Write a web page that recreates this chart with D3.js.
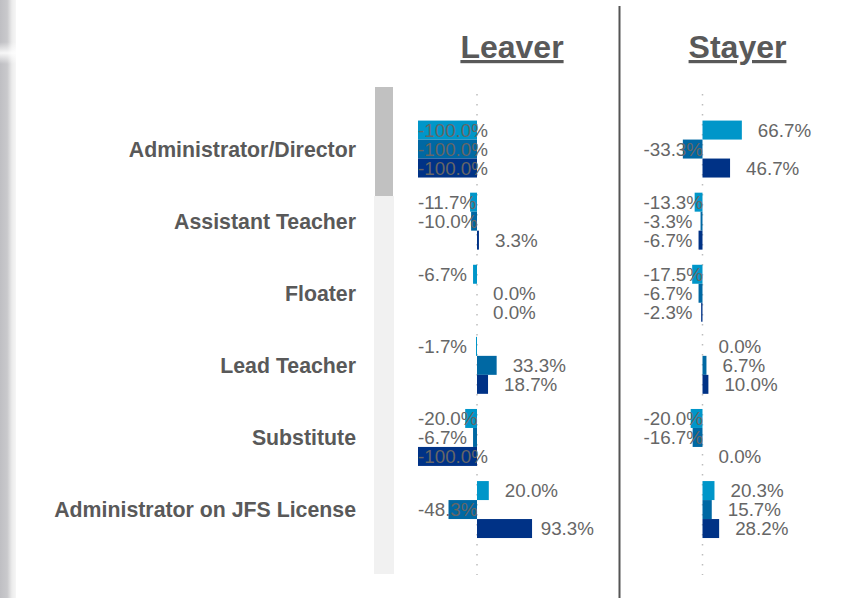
<!DOCTYPE html>
<html>
<head>
<meta charset="utf-8">
<script src="https://cdn.jsdelivr.net/npm/d3@7"></script>
<style>
  html, body { margin: 0; padding: 0; background: #fff; }
  svg { display: block; font-family: "Liberation Sans", Arial, sans-serif; }
</style>
</head>
<body>
<svg id="chart" width="851" height="598"></svg>
<script>
// ---- data ----
const categories = [
  "Administrator/Director",
  "Assistant Teacher",
  "Floater",
  "Lead Teacher",
  "Substitute",
  "Administrator on JFS License"
];
const seriesNames = ["Series 1", "Series 2", "Series 3"];
const panels = ["Leaver", "Stayer"];
// values in percent, one array per series per panel, in category order
const leaverS1 = [-100.0, -11.7, -6.7, -1.7, -20.0, 20.0];
const leaverS2 = [-100.0, -10.0, 0.0, 33.3, -6.7, -48.3];
const leaverS3 = [-100.0, 3.3, 0.0, 18.7, -100.0, 93.3];
const stayerS1 = [66.7, -13.3, -17.5, 0.0, -20.0, 20.3];
const stayerS2 = [-33.3, -3.3, -6.7, 6.7, -16.7, 15.7];
const stayerS3 = [46.7, -6.7, -2.3, 10.0, 0.0, 28.2];

const panelData = [
  [leaverS1, leaverS2, leaverS3],
  [stayerS1, stayerS2, stayerS3]
];
const colors = ["#0096c9", "#0068a3", "#003286"];

const svg = d3.select("#chart");

// ---- left edge decoration ----
const defs = svg.append("defs");
const g1 = defs.append("linearGradient").attr("id", "edge").attr("x1", 0).attr("x2", 1);
g1.append("stop").attr("offset", "0%").attr("stop-color", "#bfbfc3");
g1.append("stop").attr("offset", "45%").attr("stop-color", "#c9c9cc");
g1.append("stop").attr("offset", "75%").attr("stop-color", "#ececec");
g1.append("stop").attr("offset", "100%").attr("stop-color", "#f6f6f6");
svg.append("rect").attr("x", 0).attr("y", 0).attr("width", 16).attr("height", 598).attr("fill", "url(#edge)");
const g2 = defs.append("linearGradient").attr("id", "notch").attr("x1", 0).attr("x2", 0).attr("y1", 0).attr("y2", 1);
g2.append("stop").attr("offset", "0%").attr("stop-color", "#fff").attr("stop-opacity", 0);
g2.append("stop").attr("offset", "50%").attr("stop-color", "#fff").attr("stop-opacity", 0.85);
g2.append("stop").attr("offset", "100%").attr("stop-color", "#fff").attr("stop-opacity", 0);
svg.append("rect").attr("x", 0).attr("y", 42).attr("width", 16).attr("height", 22).attr("fill", "url(#notch)");

// ---- scrollbar ----
svg.append("rect").attr("x", 374).attr("y", 196).attr("width", 20).attr("height", 378).attr("fill", "#f1f1f1");
svg.append("rect").attr("x", 375).attr("y", 87).attr("width", 18).attr("height", 109).attr("fill", "#c1c1c1");

// ---- scales ----
const y = d3.scaleBand().domain(categories).range([113, 545.6]).paddingInner(0.21).paddingOuter(0.105);
const ySub = d3.scaleBand().domain(d3.range(seriesNames.length)).range([0, y.bandwidth()]);

const xScales = [
  d3.scaleLinear().domain([-100, 100]).range([418, 536]),
  d3.scaleLinear().domain([-100, 100]).range([643.5, 761.5])
];

// ---- divider ----
svg.append("line").attr("x1", 619.5).attr("x2", 619.5).attr("y1", 6).attr("y2", 598)
  .attr("stroke", "#555").attr("stroke-width", 2);

// ---- category labels ----
svg.append("g").selectAll("text").data(categories).join("text")
  .attr("x", 356)
  .attr("y", d => y(d) + y.bandwidth() / 2)
  .attr("dy", "0.36em")
  .attr("text-anchor", "end")
  .attr("font-size", "21.3px")
  .attr("font-weight", "bold")
  .attr("fill", "#595959")
  .text(d => d);

// ---- panels ----
panels.forEach((name, pi) => {
  const x = xScales[pi];
  const g = svg.append("g");

  // title
  g.append("text")
    .attr("x", x(0) + 35)
    .attr("y", 58)
    .attr("text-anchor", "middle")
    .attr("font-size", "32px")
    .attr("font-weight", "bold")
    .attr("fill", "#595959")
    .style("text-decoration", "underline")
    .text(name);

  // dotted zero line
  g.append("line")
    .attr("x1", x(0)).attr("x2", x(0))
    .attr("y1", 94).attr("y2", 575)
    .attr("stroke", "#bdbdbd")
    .attr("stroke-width", 1.5)
    .attr("stroke-dasharray", "1.5 8.5");

  const rows = [];
  categories.forEach((c, ci) => {
    panelData[pi].forEach((arr, si) => {
      rows.push({ cat: c, s: si, v: arr[ci] });
    });
  });

  g.selectAll("rect.bar").data(rows).join("rect")
    .attr("class", "bar")
    .attr("x", d => Math.min(x(0), x(d.v)))
    .attr("y", d => y(d.cat) + ySub(d.s))
    .attr("width", d => Math.abs(x(d.v) - x(0)))
    .attr("height", ySub.bandwidth())
    .attr("fill", d => colors[d.s]);

  const labelMax = x.range()[1] + 58;
  g.selectAll("text.val").data(rows).join("text")
    .attr("class", "val")
    .attr("y", d => y(d.cat) + ySub(d.s) + ySub.bandwidth() / 2)
    .attr("dy", "0.36em")
    .attr("font-size", "18.8px")
    .attr("fill", "#666")
    .text(d => d.v.toFixed(1) + "%")
    .each(function(d) {
      const w = this.getComputedTextLength();
      let xx;
      if (d.v < 0) xx = x.range()[0];
      else xx = Math.min(x(d.v) + 16, labelMax - w);
      d3.select(this).attr("x", xx);
    });
});
</script>
</body>
</html>
